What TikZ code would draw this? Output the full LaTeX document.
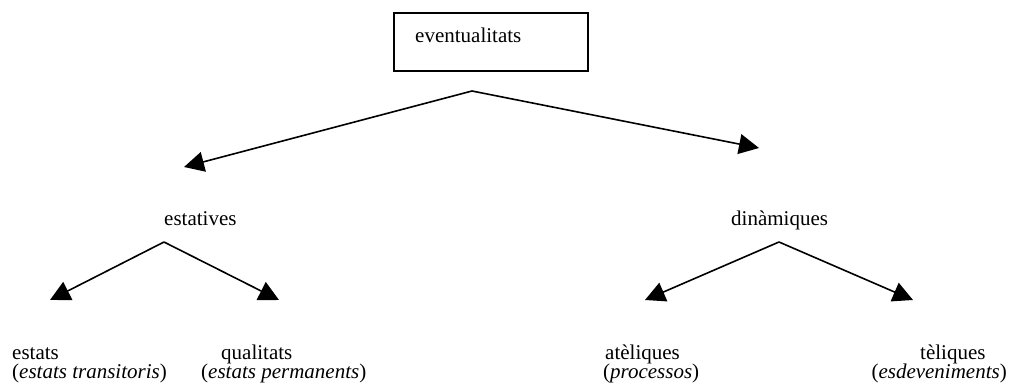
\documentclass[tikz,border=0pt]{standalone}
\usepackage{fontspec}
\setmainfont{Liberation Serif}
\usetikzlibrary{arrows.meta}
\begin{document}
\begin{tikzpicture}[x=1pt,y=-1pt,
  lbl/.style={anchor=base west,inner sep=0pt,font=\fontsize{21}{19}\selectfont},
  rootbox/.style={draw,line width=1.6pt,minimum width=194pt,minimum height=58pt,inner sep=0pt},
  branch/.style={line width=1.6pt,-{Triangle[length=20pt,width=20pt]}}]
\useasboundingbox (0,0) rectangle (1010,390);

% root
\node[rootbox] (root) at (491,42) {};
\node[lbl] (tEv) at (415,43) {eventualitats};

% second level
\node[lbl] (tEst) at (164,226) {estatives};
\node[lbl] (tDin) at (731,226) {dinàmiques};

% leaves
\node[lbl] (tEstats) at (12,359) {estats};
\node[lbl] (tEstatsI) at (12,378) {(\textit{estats transitoris})};
\node[lbl] (tQual) at (221,359) {qualitats};
\node[lbl] (tQualI) at (201,378) {(\textit{estats permanents})};
\node[lbl] (tAtel) at (605,359) {atèliques};
\node[lbl] (tAtelI) at (603,378) {(\textit{processos})};
\node[lbl] (tTel) at (920,359) {tèliques};
\node[lbl,anchor=base east] (tTelI) at (1007,378) {(\textit{esdeveniments})};

% branch points and arrow ends
\coordinate (apRoot) at (472,91);
\coordinate (apEst) at (164,242);
\coordinate (apDin) at (779,242);
\coordinate (toEst) at (184,167);
\coordinate (toDin) at (759,148);
\coordinate (toEstats) at (50,300);
\coordinate (toQual) at (279,300);
\coordinate (toAtel) at (645,300);
\coordinate (toTel) at (913,300);

\draw[branch] (apRoot) -- (toEst);
\draw[branch] (apRoot) -- (toDin);
\draw[branch] (apEst) -- (toEstats);
\draw[branch] (apEst) -- (toQual);
\draw[branch] (apDin) -- (toAtel);
\draw[branch] (apDin) -- (toTel);
\end{tikzpicture}
\end{document}
